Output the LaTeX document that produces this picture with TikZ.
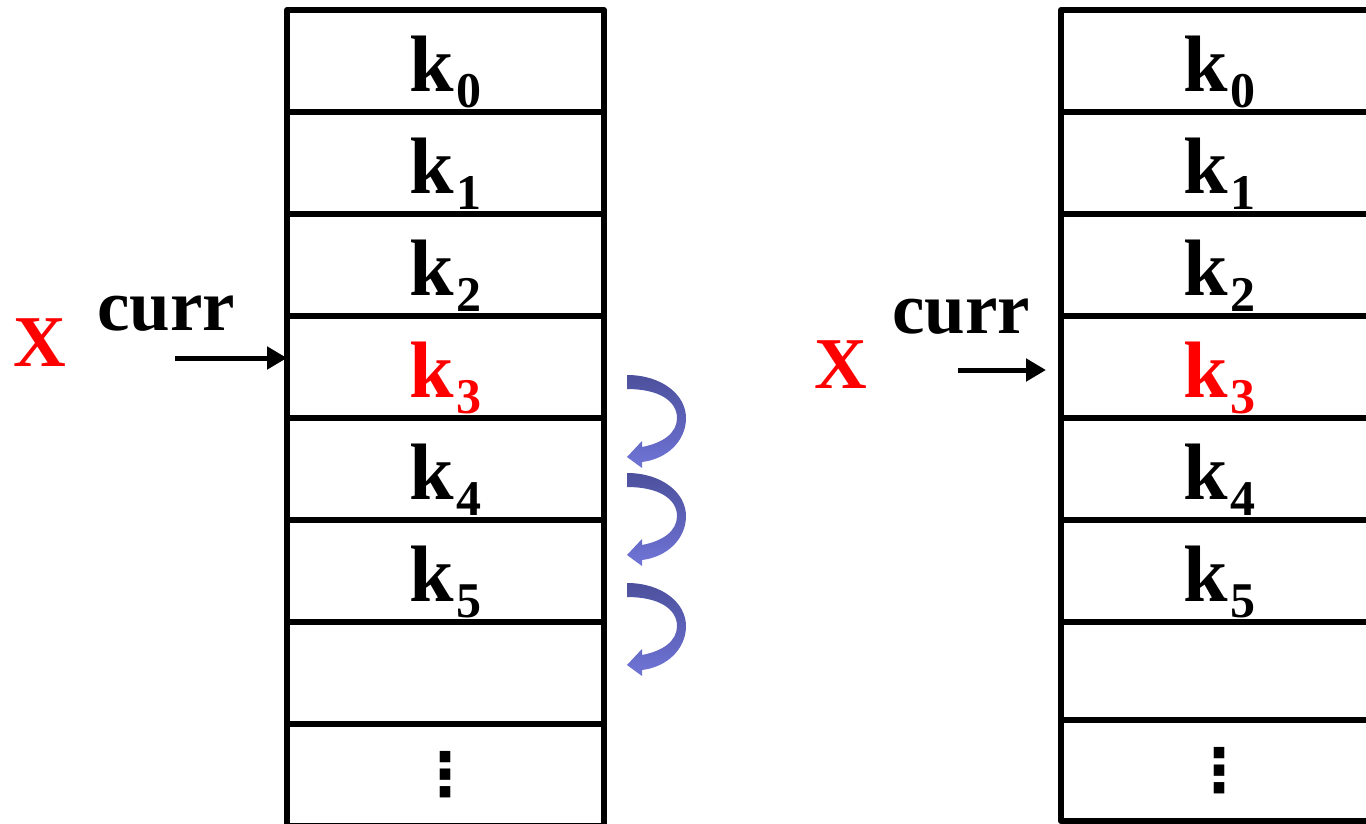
\documentclass[tikz,border=0pt]{standalone}
\usepackage{fontspec}
\setmainfont{Liberation Serif}
\newfontfamily\dotsfont{DejaVu Sans}
\usetikzlibrary{positioning,arrows.meta}
\definecolor{keyred}{RGB}{255,0,0}
\definecolor{shiftdark}{RGB}{76,80,156}
\definecolor{shiftlight}{RGB}{112,116,214}
% key with lowered subscript
\newcommand{\keylab}[2][black]{\textcolor{#1}{\fontsize{80}{84}\selectfont\bfseries k\kern2pt\fontsize{50}{52}\selectfont\raisebox{-16pt}{#2}}}
\tikzset{
  cell/.style={draw, line width=6pt, minimum width=317pt, minimum height=#1, inner sep=0pt, outer sep=0pt},
  cell/.default=102pt,
  keytext/.style={anchor=base, inner sep=0pt},
  bigtext/.style={anchor=base, inner sep=0pt, font=\fontsize{73}{78}\selectfont\bfseries},
  ptr/.style={-{Triangle[length=20pt,width=22pt]}, line width=5pt},
  shiftarrow/.style={top color=shiftdark, bottom color=shiftlight, draw=none}
}
\begin{document}
\begin{tikzpicture}[x=1pt, y=-1pt, line join=round]
	\useasboundingbox (0,0) rectangle (1366,824);
	% left array
	\node[cell] (L0) at (445.5,61) {};
	\foreach \i [evaluate=\i as \j using int(\i-1)] in {1,...,7}
		\node[cell, below=0pt of L\j] (L\i) {};
	\foreach \i in {0,1,2,4,5}
		\node[keytext] (Lk\i) at ([yshift=-30.5pt]L\i.center) {\keylab{\i}};
	\node[keytext] (Lk3) at ([yshift=-30.5pt]L3.center) {\keylab[keyred]{3}};
	\node (Ldots) at (L7.center) {\dotsfont\bfseries\fontsize{60}{64}\selectfont ⋮};
	\node[bigtext, text=keyred] (Lx) at (40,366) {X};
	\node[bigtext] (Lcurr) at (166,330) {curr};
	\coordinate (Ltail) at (175,358);
	\draw[ptr] (Ltail) -- (Ltail -| L3.west);
	% shifting arrows
	\foreach \t in {375,473,583}
		\shade[shiftarrow, shift={(627,\t)}] (0,0) .. controls (35,0) and (59,20) .. (59,43)
			.. controls (59,66) and (40,84) .. (15,87) -- (15,93) -- (0,82) -- (15,66) -- (15,72)
			.. controls (36,68) and (50,58) .. (50,43) .. controls (50,26) and (32,14) .. (0,14) -- cycle;
	% right array
	\node[cell] (R0) at (1219.5,61) {};
	\foreach \i/\h [evaluate=\i as \j using int(\i-1)] in {1/102,2/102,3/102,4/102,5/102,6/98,7/101}
		\node[cell=\h pt, below=0pt of R\j] (R\i) {};
	\foreach \i in {0,1,2,4,5}
		\node[keytext] (Rk\i) at ([yshift=-30.5pt]R\i.center) {\keylab{\i}};
	\node[keytext] (Rk3) at ([yshift=-30.5pt]R3.center) {\keylab[keyred]{3}};
	\node (Rdots) at (R7.center) {\dotsfont\bfseries\fontsize{60}{64}\selectfont ⋮};
	\node[bigtext, text=keyred] (Rx) at (841,388) {X};
	\node[bigtext] (Rcurr) at (961,333) {curr};
	\coordinate (Rtail) at (958,370);
	\draw[ptr, shorten >=15pt] (Rtail) -- (Rtail -| R3.west);
\end{tikzpicture}
\end{document}
